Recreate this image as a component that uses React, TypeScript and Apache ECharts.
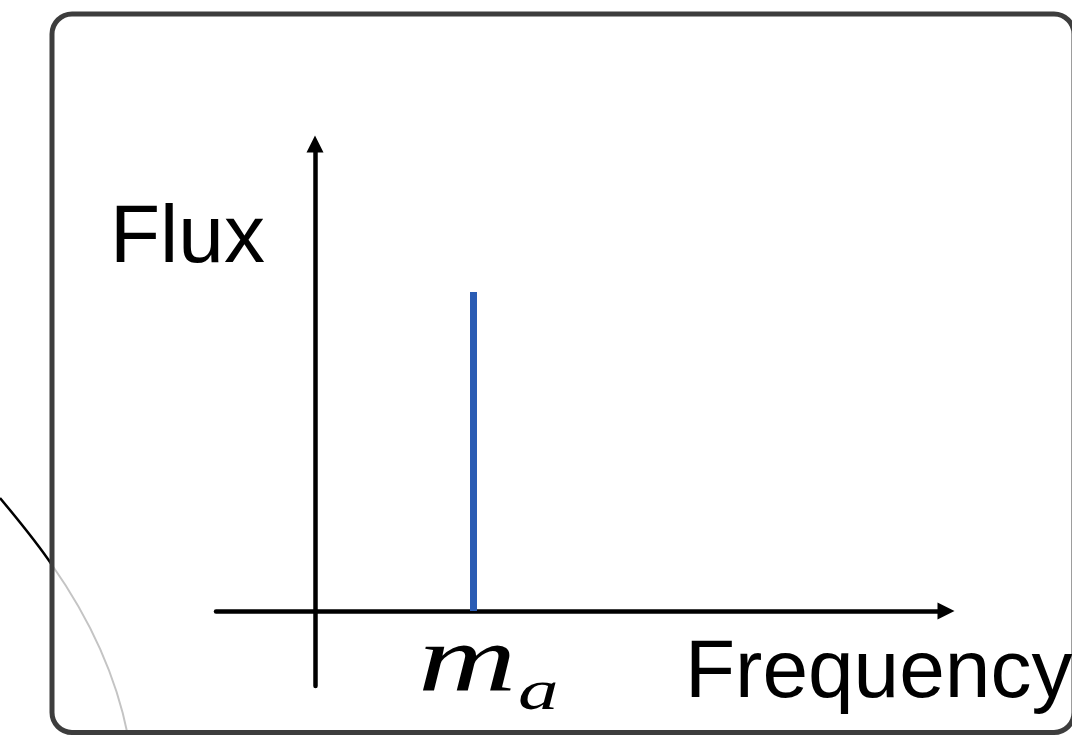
import React, { useEffect, useRef } from "react";
import * as echarts from "echarts";

// Axis extents (arbitrary units; origin where the axes cross)
const freqRange = [-0.6246, 3.981];
const fluxRange = [-0.235, 1.464];

// Single spectral line at the axion mass
const lineFreq = [1, 1];
const lineFlux = [0, 1];

// Texts
const yTitle = "Flux";
const xTitle = "Frequency";
const massSymbol = "m";
const massSubscript = "a";

const W = 1072;
const H = 735;

export default function App() {
  const ref = useRef<HTMLDivElement>(null);

  useEffect(() => {
    if (!ref.current) return;
    const chart = echarts.init(ref.current, null, { renderer: "svg" });

    const axisLine = {
      show: true,
      onZero: true,
      symbol: ["none", "triangle"],
      symbolSize: [17, 17],
      lineStyle: { color: "#000", width: 4.5 },
    };

    chart.setOption({
      animation: false,
      backgroundColor: "#ffffff",
      grid: { left: 216, right: W - 946, top: 144, bottom: H - 686 },
      xAxis: {
        type: "value",
        min: freqRange[0],
        max: freqRange[1],
        axisLine,
        axisTick: { show: false },
        axisLabel: { show: false },
        splitLine: { show: false },
      },
      yAxis: {
        type: "value",
        min: fluxRange[0],
        max: fluxRange[1],
        axisLine,
        axisTick: { show: false },
        axisLabel: { show: false },
        splitLine: { show: false },
      },
      series: [
        {
          type: "line",
          data: lineFreq.map((f, i) => [f, lineFlux[i]]),
          symbol: "none",
          lineStyle: { color: "#2a5cb4", width: 7, cap: "butt" },
          z: 3,
        },
      ],
      graphic: [
        // stray arc running in from the left edge
        {
          type: "bezierCurve",
          z: 1,
          silent: true,
          shape: { x1: 0, y1: 498, x2: 52, y2: 565, cpx1: 20, cpy1: 522, cpx2: 38, cpy2: 544 },
          style: { stroke: "#000", lineWidth: 2.5, fill: "none" },
        },
        {
          type: "bezierCurve",
          z: 1,
          silent: true,
          shape: { x1: 52, y1: 565, x2: 128, y2: 736, cpx1: 85, cpy1: 612, cpx2: 115, cpy2: 670 },
          style: { stroke: "#c4c4c4", lineWidth: 2, fill: "none" },
        },
        // rounded frame
        {
          type: "rect",
          z: 5,
          silent: true,
          shape: { x: 52, y: 14, width: 1022, height: 718.5, r: 20 },
          style: { stroke: "#3d3d3d", lineWidth: 5, fill: "none" },
        },
        {
          type: "text",
          z: 6,
          x: 110,
          y: 233,
          style: {
            text: yTitle,
            font: "82px 'Liberation Sans', Arial, sans-serif",
            fill: "#000",
            align: "left",
            verticalAlign: "middle",
          },
        },
        {
          type: "text",
          z: 6,
          x: 685,
          y: 668,
          style: {
            text: xTitle,
            font: "82px 'Liberation Sans', Arial, sans-serif",
            fill: "#000",
            align: "left",
            verticalAlign: "middle",
          },
        },
        {
          type: "text",
          z: 6,
          x: 418,
          y: 659,
          scaleX: 1.42,
          style: {
            text: massSymbol,
            font: "italic 96px 'Liberation Serif', 'Times New Roman', serif",
            fill: "#000",
            align: "left",
            verticalAlign: "middle",
          },
        },
        {
          type: "text",
          z: 6,
          x: 518,
          y: 689,
          scaleX: 1.4,
          style: {
            text: massSubscript,
            font: "italic 58px 'Liberation Serif', 'Times New Roman', serif",
            fill: "#000",
            align: "left",
            verticalAlign: "middle",
          },
        },
      ],
    });

    return () => chart.dispose();
  }, []);

  return (
    <div
      ref={ref}
      style={{ position: "fixed", left: 0, top: 0, width: W, height: H, background: "#fff" }}
    />
  );
}
